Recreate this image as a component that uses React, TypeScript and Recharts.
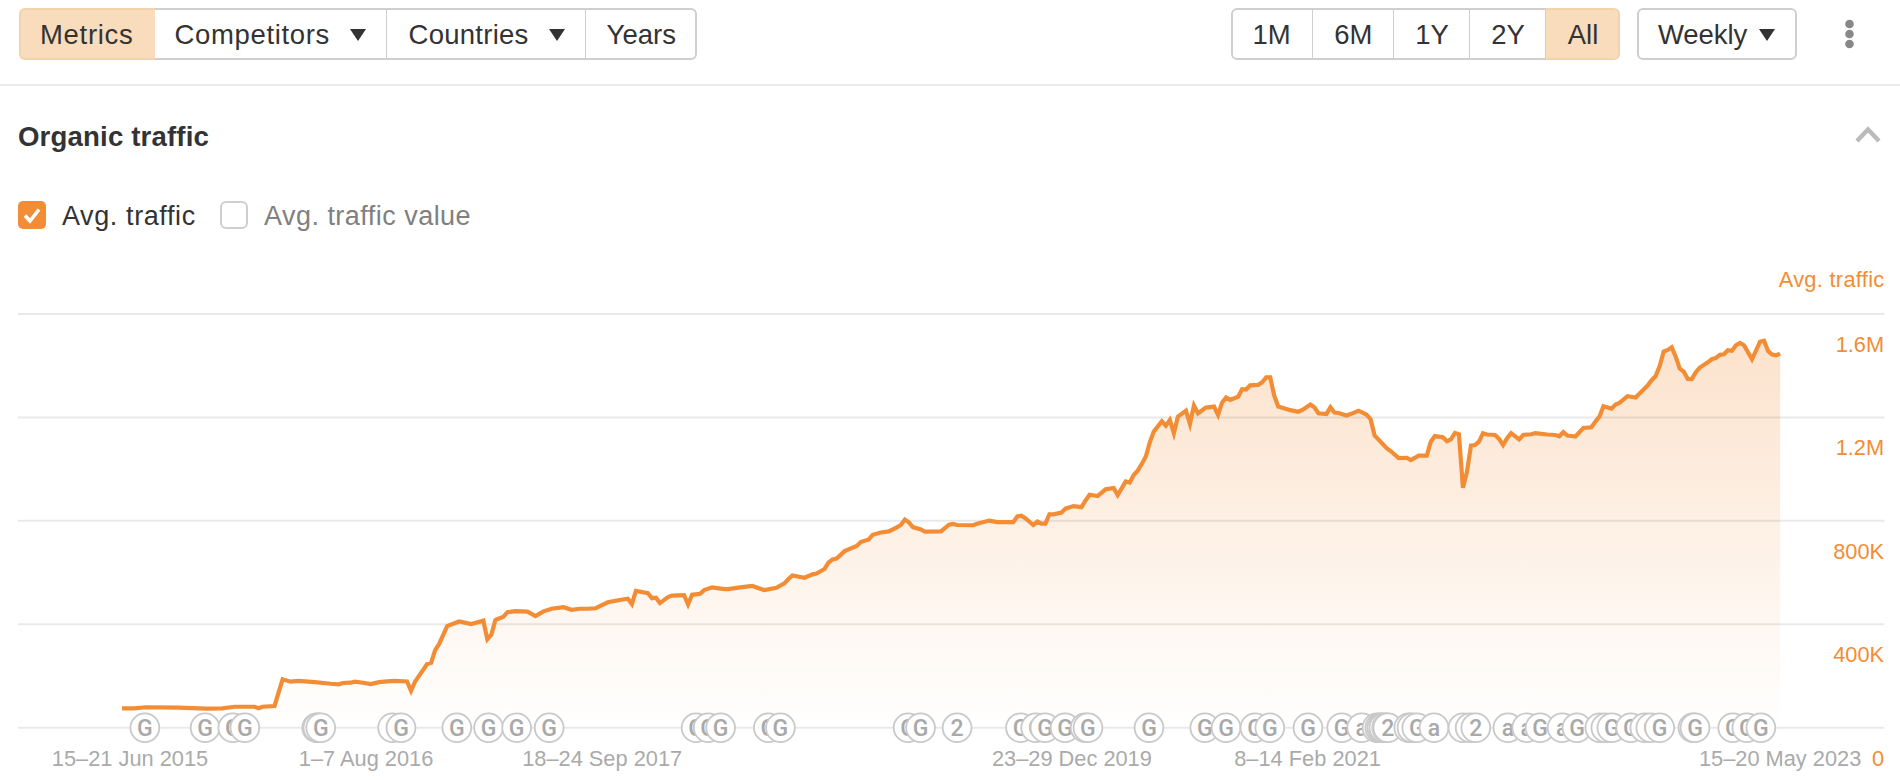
import React from "react";
import { ComposedChart, Area, Line, Scatter, XAxis, YAxis, ReferenceLine } from "recharts";

const weeks = [0,3,6,14,21,25,28,33,34,35,38,40,42,44,48,52,54,55,57,58,60,62,64,66,68,71,72,73,76,77,78,79,81,82,84,87,90,91,92,93,95,96,98,101,103,105,107,110,112,114,116,118,121,124,126,127,128,131,132,133,134,136,137,140,141,142,144,145,147,150,151,154,157,160,163,165,166,167,170,172,173,175,176,177,178,180,183,184,186,187,189,191,193,194,195,196,197,199,200,204,206,207,208,212,213,216,218,222,223,224,225,227,228,229,230,231,232,234,235,237,239,240,241,243,245,247,248,250,251,252,253,254,255,256,257,259,260,261,262,263,265,266,267,268,270,272,273,274,275,276,278,279,280,281,283,284,285,286,287,288,291,293,294,296,297,298,300,301,302,303,305,306,308,310,311,312,315,316,318,320,321,323,325,326,327,329,330,331,332,333,334,335,336,337,338,339,340,342,343,344,345,346,348,349,351,352,355,357,358,359,360,362,364,366,367,368,369,371,372,373,375,377,379,380,381,382,383,384,385,386,387,388,389,390,391,392,393,395,396,397,398,399,400,401,402,403,404,406,408,409,410,411,412,413];
const traffic = [75,75,79,77.5,74,75,81,81,75,81,84,187,178,181,176,170,168,173,174,178,174,169,176,179,181,179,143,178,246,251,300,324,393,399,411,401,414,342,360,416,429,447,451,449,432,450,460,466,456,460,460,462,485,494,499,478,529,520,501,503,482,505,511,513,477,514,518,532,543,536,536,543,548,532,541,558,575,589,580,593,596,614,639,651,654,683,703,718,728,746,755,759,775,784,805,794,776,767,758,759,785,788,784,783,789,801,795,795,817,820,810,784,797,789,789,825,825,832,847,857,853,879,901,896,922,927,900,952,948,977,994,1020,1048,1103,1145,1185,1168,1190,1139,1203,1226,1175,1246,1216,1238,1242,1210,1257,1277,1268,1280,1309,1308,1324,1326,1336,1355,1355,1284,1242,1228,1222,1229,1250,1239,1216,1213,1239,1219,1217,1207,1213,1226,1211,1193,1130,1081,1070,1043,1044,1035,1052,1052,1106,1128,1123,1108,1115,1140,1135,928,990,1091,1093,1106,1139,1134,1132,1117,1093,1120,1139,1115,1132,1135,1139,1134,1132,1127,1143,1130,1126,1159,1162,1184,1203,1243,1234,1250,1256,1282,1277,1308,1323,1344,1360,1399,1455,1461,1471,1435,1389,1377,1349,1348,1375,1393,1413,1425,1430,1442,1444,1460,1458,1479,1488,1479,1425,1493,1497,1457,1443,1440,1447];

const yTicks = [0, 400, 800, 1200, 1600];
const yTickLabels = ["0", "400K", "800K", "1.2M", "1.6M"];
const xTicks = [2, 60.8, 119.6, 236.6, 295.3, 413];
const xTickLabels = ["15–21 Jun 2015", "1–7 Aug 2016", "18–24 Sep 2017", "23–29 Dec 2019", "8–14 Feb 2021", "15–20 May 2023"];

const markerWeeks = [5.7,20.7,27.6,30.6,48.5,48.8,49.5,67.4,69.5,83.4,91.3,98.3,106.4,143,146,149.1,161,164,195.8,198.9,208,223.8,227.6,229.9,234.9,239.9,240.6,255.8,269.7,275,282.2,285.9,295.4,303.8,308.8,312.6,313.3,313.8,314.3,315,315.3,320.5,321.3,322.5,326.8,334,335.8,337.2,345.2,349.9,353.2,358.7,362.4,368.1,369.6,371.1,375.8,379.3,380.8,383,391.3,391.8,401.2,404.7,408.2];
const markerLetters = ["G","G","G","G","G","G","G","G","G","G","G","G","G","G","G","G","G","G","G","G","2","G","G","G","G","G","G","G","G","G","G","G","G","G","a","G","G","G","G","G","2","G","G","G","a","G","G","2","a","a","G","a","G","G","G","G","G","G","G","G","G","G","G","G","G"];

const rows = weeks.map((week, i) => ({ week, traffic: traffic[i] }));
const markerRows = markerWeeks.map((week, i) => ({ week, marker: 0, letter: markerLetters[i] }));

const FONT = '"Liberation Sans", Arial, sans-serif';
const ORANGE = "#f28d35";

const renderXTick = (p: any) => {
  const i = xTicks.indexOf(p.payload.value);
  return (
    <text x={p.x} y={p.y} dy={30} textAnchor="middle" fontFamily={FONT} fontSize={21.8} fill="#aaaaaa">
      {xTickLabels[i]}
    </text>
  );
};

const renderYTick = (p: any) => {
  const i = yTicks.indexOf(p.payload.value);
  return (
    <text x={p.x} y={p.y} dx={-2.4} dy={38} textAnchor="end" fontFamily={FONT} fontSize={21.8} fill={ORANGE}>
      {yTickLabels[i]}
    </text>
  );
};

const renderMarker = (p: any) => (
  <g>
    <circle cx={p.cx} cy={p.cy} r={14.4} fill="#fff" stroke="#c9c9c9" strokeWidth={1.8} />
    <text x={p.cx} y={p.cy} dy={8} textAnchor="middle" fontFamily="Roboto, sans-serif" fontWeight={500} fontSize={23} fill="#a9a9a9">
      {p.payload.letter}
    </text>
  </g>
);

const box: React.CSSProperties = {
  position: "absolute",
  boxSizing: "border-box",
  top: 8,
  height: 52,
  display: "flex",
  alignItems: "center",
  justifyContent: "center",
  background: "#fff",
  borderTop: "2px solid #cfcfcf",
  borderBottom: "2.5px solid #cfcfcf",
};

type SegProps = { left: number; right: number; text: string; active?: boolean; first?: boolean; last?: boolean; textLeft?: number; caret?: number; spacing?: number };

const Seg = ({ left, right, text, active, first, last, textLeft, caret, spacing }: SegProps) => (
  <>
    <div
      style={{
        ...box,
        left,
        width: right - left,
        background: active ? "#f9dcbc" : "#fff",
        borderTopColor: active ? "#f3d3ae" : "#cfcfcf",
        borderBottomColor: active ? "#f3d3ae" : "#cfcfcf",
        borderLeft: first ? `2px solid ${active ? "#f3d3ae" : "#cfcfcf"}` : "none",
        borderRight: last ? `2px solid ${active ? "#f3d3ae" : "#cfcfcf"}` : active ? "none" : "1.5px solid #cfcfcf",
        borderTopLeftRadius: first ? 6 : 0,
        borderBottomLeftRadius: first ? 6 : 0,
        borderTopRightRadius: last ? 6 : 0,
        borderBottomRightRadius: last ? 6 : 0,
      }}
    />
    <div
      style={{
        position: "absolute",
        top: 9,
        height: 52,
        lineHeight: "52px",
        left: textLeft ?? left,
        width: textLeft === undefined ? right - left : undefined,
        textAlign: textLeft === undefined ? "center" : "left",
        fontSize: 27.5,
        letterSpacing: spacing ?? 0,
        color: "#333",
        whiteSpace: "nowrap",
      }}
    >
      {text}
    </div>
    {caret !== undefined && (
      <svg style={{ position: "absolute", left: caret - 8, top: 29 }} width={16} height={12}>
        <polygon points="0,0 16,0 8,12" fill="#333" />
      </svg>
    )}
  </>
);

export default function App() {
  return (
    <div style={{ position: "absolute", left: 0, top: 0, width: 1900, height: 780, background: "#fff", overflow: "hidden", fontFamily: FONT }}>
      <Seg left={19} right={154.5} text="Metrics" active first spacing={0.7} />
      <Seg left={154.5} right={387} text="Competitors" textLeft={174.5} caret={358} spacing={0.66} />
      <Seg left={387} right={586} text="Countries" textLeft={408.5} caret={557} spacing={0.27} />
      <Seg left={586} right={696.5} text="Years" last />

      <Seg left={1230.5} right={1312.5} text="1M" first />
      <Seg left={1312.5} right={1394} text="6M" />
      <Seg left={1394} right={1470} text="1Y" />
      <Seg left={1470} right={1546} text="2Y" />
      <Seg left={1546} right={1620} text="All" active last />

      <Seg left={1636.5} right={1797} text="Weekly" first last textLeft={1658} caret={1767} spacing={-0.1} />

      <svg style={{ position: "absolute", left: 1840, top: 16 }} width={20} height={36}>
        <circle cx={9.5} cy={8} r={4.3} fill="#888" />
        <circle cx={9.5} cy={18} r={4.3} fill="#888" />
        <circle cx={9.5} cy={28} r={4.3} fill="#888" />
      </svg>

      <div style={{ position: "absolute", left: 0, top: 84, width: 1900, height: 2, background: "#ebebeb" }} />

      <div style={{ position: "absolute", left: 18, top: 120, lineHeight: "34px", fontSize: 27.6, letterSpacing: 0.16, fontWeight: 700, color: "#333", whiteSpace: "nowrap" }}>
        Organic traffic
      </div>
      <svg style={{ position: "absolute", left: 1854, top: 125 }} width={28} height={20}>
        <polyline points="3,16 14,4.5 25,16" fill="none" stroke="#bbbbbb" strokeWidth={4.4} />
      </svg>

      <svg style={{ position: "absolute", left: 18, top: 201 }} width={28} height={28}>
        <rect width={28} height={28} rx={5} fill={ORANGE} />
        <polyline points="7,14.5 12,20 21,8.5" fill="none" stroke="#fff" strokeWidth={3.6} />
      </svg>
      <div style={{ position: "absolute", left: 62, top: 199, lineHeight: "34px", fontSize: 27, letterSpacing: 0.6, color: "#333", whiteSpace: "nowrap" }}>Avg. traffic</div>
      <svg style={{ position: "absolute", left: 220, top: 201 }} width={28} height={28}>
        <rect x={1} y={1} width={26} height={26} rx={5} fill="#fff" stroke="#cfcfcf" strokeWidth={2} />
      </svg>
      <div style={{ position: "absolute", left: 264, top: 199, lineHeight: "34px", fontSize: 27, letterSpacing: 0.47, color: "#808080", whiteSpace: "nowrap" }}>Avg. traffic value</div>

      <div style={{ position: "absolute", right: 15.5, top: 267, lineHeight: "26px", fontSize: 21.8, letterSpacing: 0.3, color: ORANGE, whiteSpace: "nowrap" }}>Avg. traffic</div>

      <div style={{ position: "absolute", left: 0, top: 0 }}>
        <ComposedChart width={1900} height={780} data={rows} margin={{ top: 314, right: 14.5, bottom: 0, left: 18 }}>
          <defs>
            <linearGradient id="areaFill" x1="0" y1="0" x2="0" y2="1">
              <stop offset="0%" stopColor={ORANGE} stopOpacity={0.42} />
              <stop offset="100%" stopColor={ORANGE} stopOpacity={0} />
            </linearGradient>
          </defs>
          <XAxis
            dataKey="week"
            type="number"
            domain={[-25.9, 439]}
            ticks={xTicks}
            interval={0}
            height={52.3}
            axisLine={false}
            tickLine={false}
            tick={renderXTick}
            allowDataOverflow
          />
          <YAxis
            orientation="right"
            type="number"
            domain={[0, 1600]}
            ticks={yTicks}
            interval={0}
            width={1}
            axisLine={false}
            tickLine={false}
            tickSize={0}
            tick={renderYTick}
          />
          <Area dataKey="traffic" type="linear" stroke="none" fill="url(#areaFill)" isAnimationActive={false} />
          {yTicks.map((t) => (
            <ReferenceLine key={t} y={t} stroke="#000000" strokeOpacity={0.085} strokeWidth={2} />
          ))}
          <Line dataKey="traffic" type="linear" stroke={ORANGE} strokeWidth={4.2} dot={false} isAnimationActive={false} strokeLinejoin="miter" />
          <Scatter data={markerRows} dataKey="marker" shape={renderMarker} isAnimationActive={false} />
        </ComposedChart>
      </div>
    </div>
  );
}
